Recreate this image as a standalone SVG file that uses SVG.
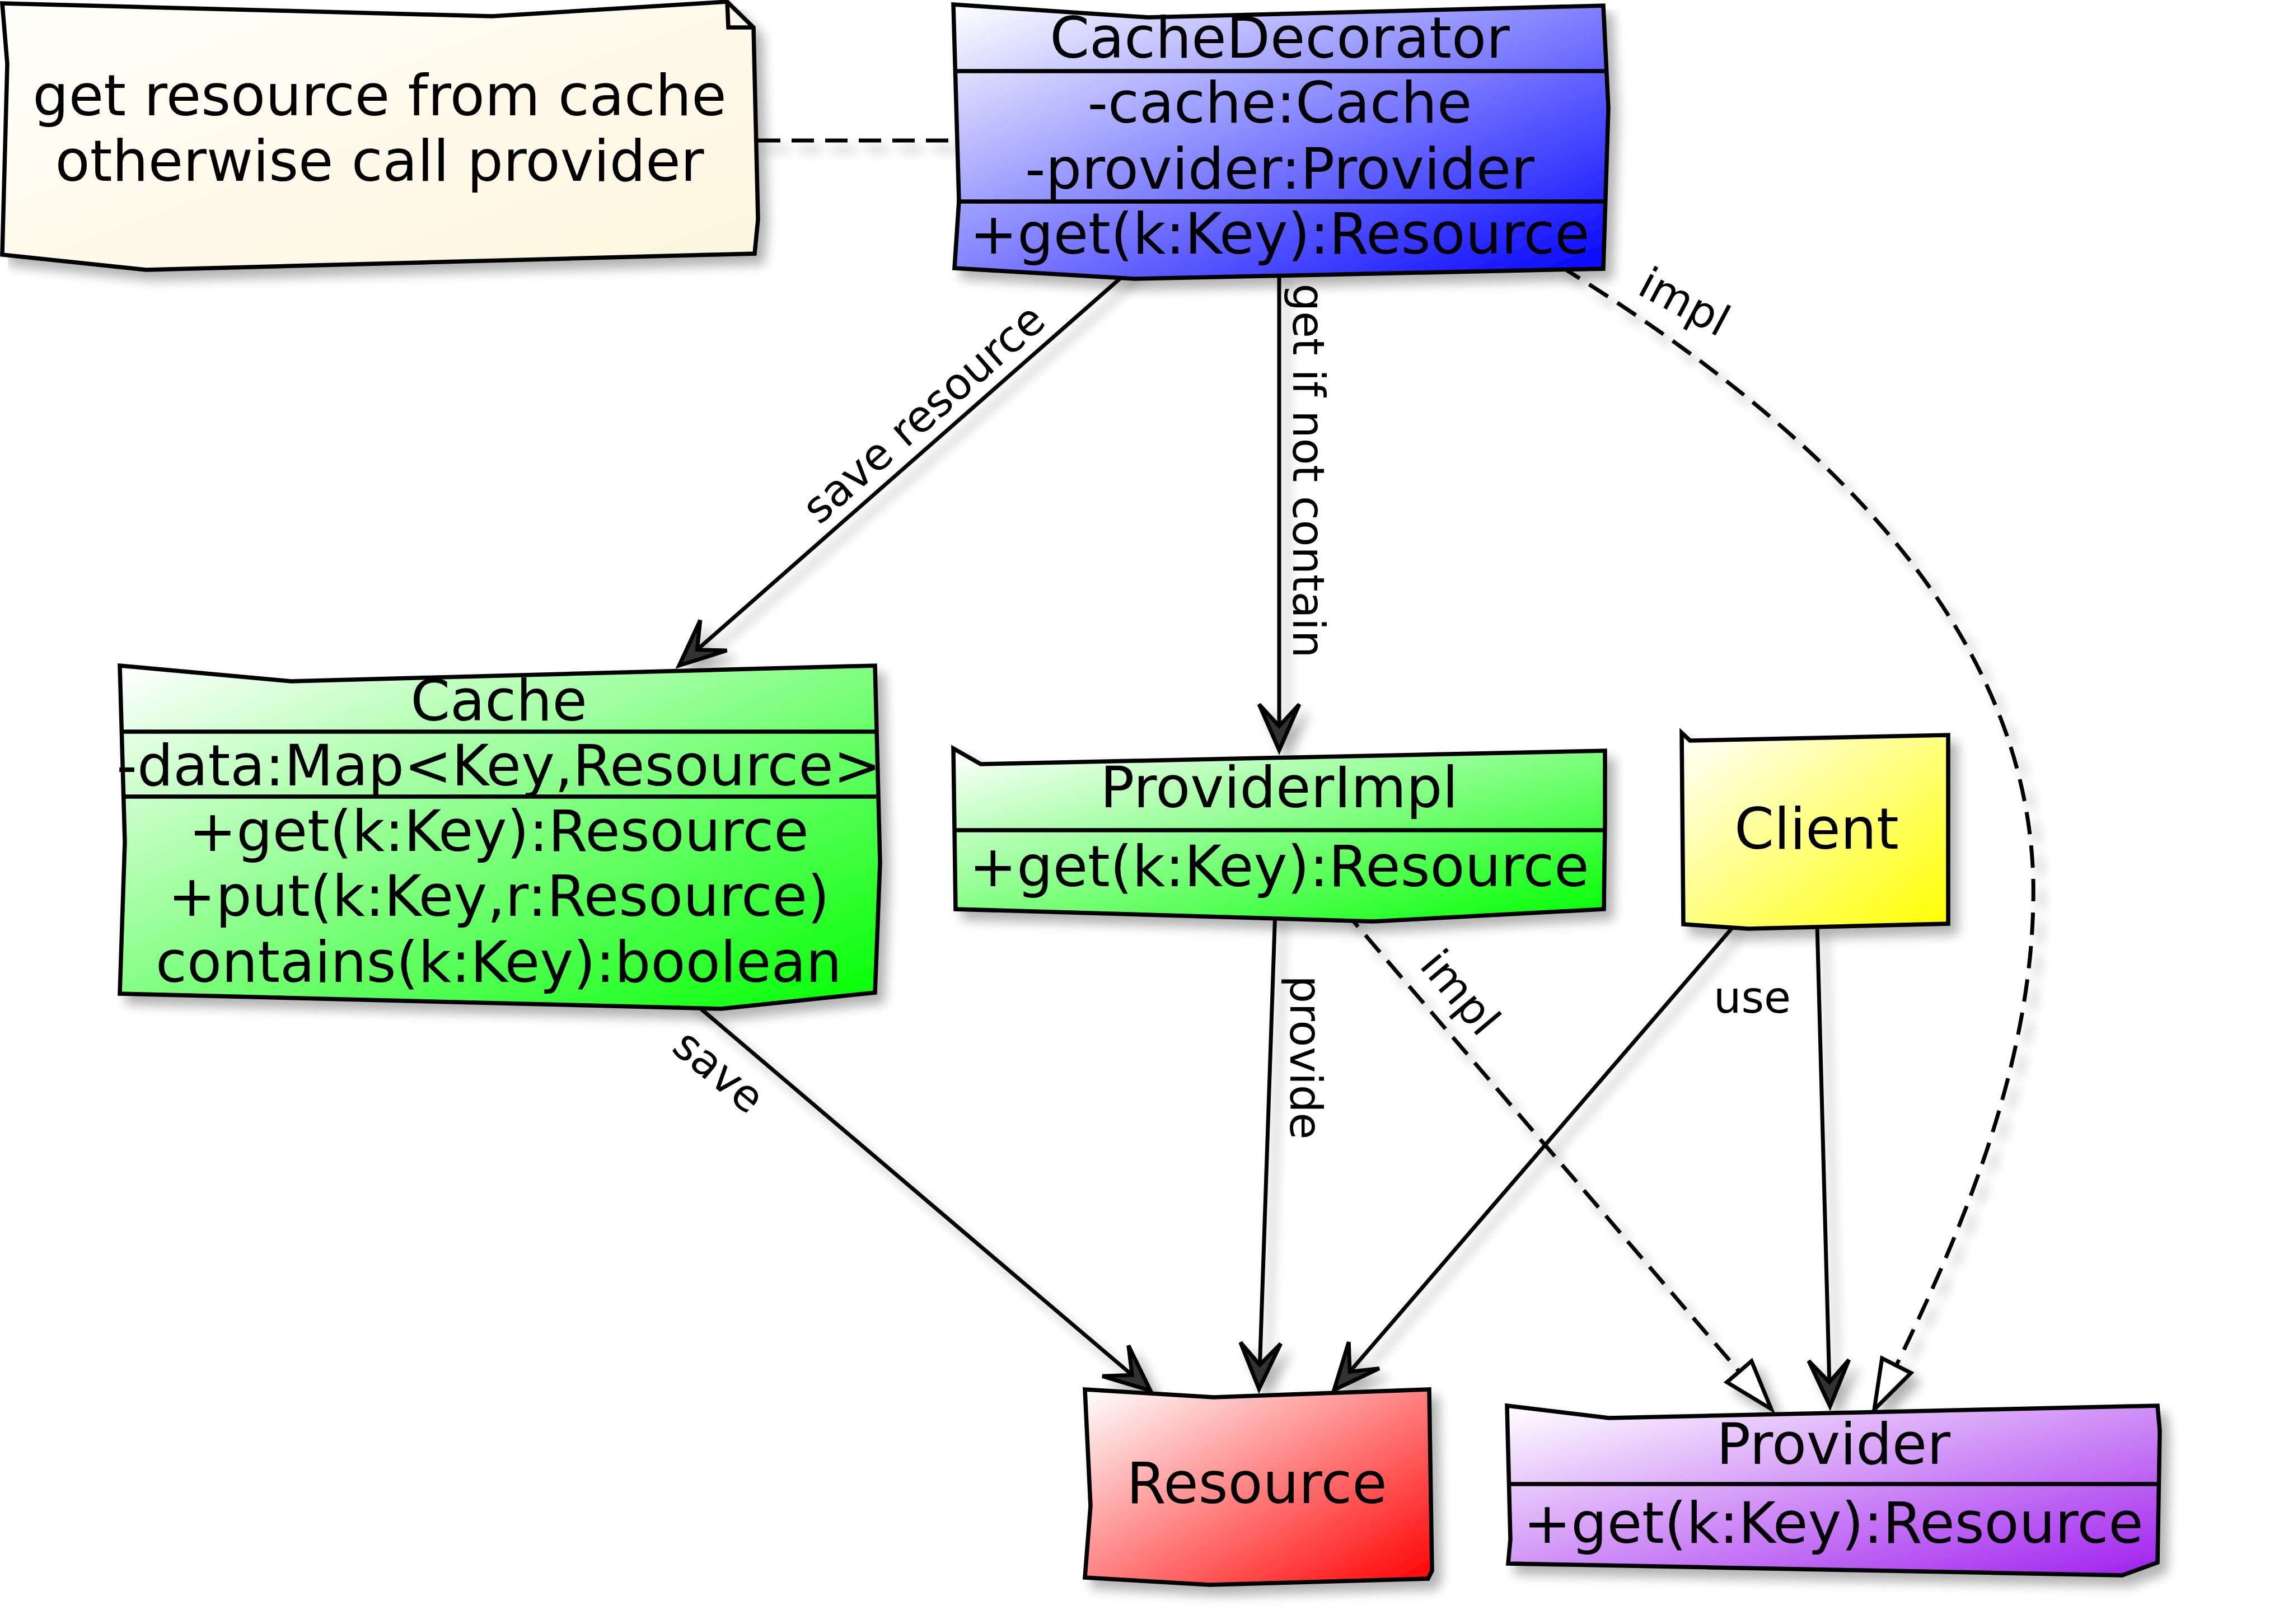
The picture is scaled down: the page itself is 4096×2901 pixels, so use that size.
<svg xmlns="http://www.w3.org/2000/svg" width="4096" height="2901" viewBox="0 0 4096 2901">
<style>
.shape{stroke:#000;stroke-width:7.5;stroke-linejoin:miter}
.sep{stroke:#000;stroke-width:7.5;fill:none}
.t{font-family:"DejaVu Sans","Liberation Sans",sans-serif;font-size:101.5px;fill:#000;text-anchor:middle}
.lbl{font-family:"DejaVu Sans","Liberation Sans",sans-serif;font-size:78px;fill:#000;text-anchor:middle}
.conn{fill:none;stroke:#000;stroke-width:7}
.dash{stroke-dasharray:40 20}
</style>
<defs>
<filter id="sh" filterUnits="userSpaceOnUse" x="0" y="0" width="4096" height="2901">
<feGaussianBlur in="SourceAlpha" stdDeviation="10"/>
<feOffset dx="14" dy="16" result="o"/>
<feComponentTransfer><feFuncA type="linear" slope="0.3"/></feComponentTransfer>
<feMerge><feMergeNode/><feMergeNode in="SourceGraphic"/></feMerge>
</filter>
<linearGradient id="gNote" x1="0" y1="0" x2="1" y2="1"><stop offset="0" stop-color="#fffefa"/><stop offset="1" stop-color="#fdf5dc"/></linearGradient>
<linearGradient id="gBlue" x1="0" y1="0" x2="1" y2="1"><stop offset="0" stop-color="#ffffff"/><stop offset="1" stop-color="#0000ff"/></linearGradient>
<linearGradient id="gGreen" x1="0" y1="0" x2="1" y2="1"><stop offset="0" stop-color="#ffffff"/><stop offset="1" stop-color="#00ff00"/></linearGradient>
<linearGradient id="gYellow" x1="0" y1="0" x2="1" y2="1"><stop offset="0" stop-color="#ffffff"/><stop offset="1" stop-color="#ffff00"/></linearGradient>
<linearGradient id="gRed" x1="0" y1="0" x2="1" y2="1"><stop offset="0" stop-color="#ffffff"/><stop offset="1" stop-color="#ff0000"/></linearGradient>
<linearGradient id="gPurple" x1="0" y1="0" x2="1" y2="1"><stop offset="0" stop-color="#ffffff"/><stop offset="1" stop-color="#a020ee"/></linearGradient>
<marker id="arr" markerUnits="userSpaceOnUse" orient="auto" viewBox="-100 -50 110 100" markerWidth="110" markerHeight="100" refX="0" refY="0" overflow="visible">
<path d="M0,0 L-82,-36 L-43,0 L-82,36 Z" fill="#333" stroke="#000" stroke-width="7" stroke-dasharray="none"/>
</marker>
<marker id="tri" markerUnits="userSpaceOnUse" orient="auto" viewBox="-100 -50 110 100" markerWidth="110" markerHeight="100" refX="0" refY="0" overflow="visible">
<path d="M0,0 L-88,-29 L-88,29 Z" fill="#fff" stroke="#000" stroke-width="7" stroke-dasharray="none"/>
</marker>
</defs>
<rect width="4096" height="2901" fill="#fff"/>

<g id="connectors">
<g filter="url(#sh)">
<path class="conn dash" d="M1354,251 L1709,251"/>
<path class="conn" d="M2023,478 L1213,1189" marker-end="url(#arr)"/>
<path class="conn" d="M2285,480 L2285,1340" marker-end="url(#arr)"/>
<path class="conn dash" d="M2788,476 C3209,737 3618,1092 3632,1570 C3639,1912 3482,2253 3348,2518" marker-end="url(#tri)"/>
<path class="conn" d="M1226,1780 L2055,2484" marker-end="url(#arr)"/>
<path class="conn" d="M2278,1625 L2249,2481" marker-end="url(#arr)"/>
<path class="conn dash" d="M2400,1625 L3164,2517" marker-end="url(#tri)"/>
<path class="conn" d="M3099,1652 L2383,2483" marker-end="url(#arr)"/>
<path class="conn" d="M3246,1652 L3269,2512" marker-end="url(#arr)"/>
</g>
<g id="labels">
<text class="lbl" transform="translate(1651,740) rotate(-41.4)" x="0" y="25">save resource</text>
<text class="lbl" transform="translate(2335,841) rotate(90)" x="0" y="25">get if not contain</text>
<text class="lbl" transform="translate(3008,541) rotate(28)" x="0" y="25">impl</text>
<text class="lbl" transform="translate(1283,1915) rotate(40)" x="0" y="25">save</text>
<text class="lbl" transform="translate(2330,1889) rotate(90)" x="0" y="25">provide</text>
<text class="lbl" transform="translate(2607,1774) rotate(50)" x="0" y="25">impl</text>
<text class="lbl" x="3130" y="1809">use</text>
</g>
</g>

<g id="note">
<polygon class="shape" fill="url(#gNote)" filter="url(#sh)" points="4,6 879,29 1299,3 1346,49 1354,392 1348,453 261,482 4,455 13,114"/>
<path class="sep" d="M1299,3 L1301,49 L1346,49"/>
<text class="t" x="678" y="206">get resource from cache</text>
<text class="t" x="678" y="323">otherwise call provider</text>
</g>

<g id="CacheDecorator">
<polygon class="shape" fill="url(#gBlue)" filter="url(#sh)" points="1703,8 2051,31 2864,10 2873,193 2864,480 2027,498 1705,479 1713,359"/>
<line class="sep" x1="1709" y1="127" x2="2866" y2="127"/>
<line class="sep" x1="1709" y1="360" x2="2866" y2="360"/>
<text class="t" x="2286" y="103">CacheDecorator</text>
<text class="t" x="2286" y="219">-cache:Cache</text>
<text class="t" x="2286" y="337">-provider:Provider</text>
<text class="t" x="2286" y="453">+get(k:Key):Resource</text>
</g>

<g id="Cache">
<polygon class="shape" fill="url(#gGreen)" filter="url(#sh)" points="214,1189 520,1217 1563,1189 1572,1541 1563,1773 1288,1802 214,1775 223,1504"/>
<line class="sep" x1="218" y1="1307" x2="1565" y2="1307"/>
<line class="sep" x1="218" y1="1423" x2="1565" y2="1423"/>
<text class="t" x="891" y="1287">Cache</text>
<text class="t" x="891" y="1403">-data:Map&lt;Key,Resource&gt;</text>
<text class="t" x="891" y="1520">+get(k:Key):Resource</text>
<text class="t" x="891" y="1636">+put(k:Key,r:Resource)</text>
<text class="t" x="891" y="1754">contains(k:Key):boolean</text>
</g>

<g id="ProviderImpl">
<polygon class="shape" fill="url(#gGreen)" filter="url(#sh)" points="1703,1337 1752,1365 2867,1341 2867,1467 2865,1624 2453,1646 1707,1624"/>
<line class="sep" x1="1707" y1="1483" x2="2866" y2="1483"/>
<text class="t" x="2285" y="1442">ProviderImpl</text>
<text class="t" x="2285" y="1583">+get(k:Key):Resource</text>
</g>

<g id="Client">
<polygon class="shape" fill="url(#gYellow)" filter="url(#sh)" points="3004,1309 3019,1323 3480,1313 3480,1480 3480,1650 3123,1659 3007,1651"/>
<text class="t" x="3245" y="1516">Client</text>
</g>

<g id="Resource">
<polygon class="shape" fill="url(#gRed)" filter="url(#sh)" points="1938,2482 2168,2496 2553,2482 2558,2806 2551,2820 2161,2831 1938,2818 1948,2690"/>
<text class="t" x="2245" y="2685">Resource</text>
</g>

<g id="Provider">
<polygon class="shape" fill="url(#gPurple)" filter="url(#sh)" points="2692,2511 2874,2533 3854,2511 3858,2556 3854,2791 3791,2814 2694,2793 2698,2750"/>
<line class="sep" x1="2698" y1="2651" x2="3856" y2="2651"/>
<text class="t" x="3275" y="2615">Provider</text>
<text class="t" x="3275" y="2756">+get(k:Key):Resource</text>
</g>
</svg>
